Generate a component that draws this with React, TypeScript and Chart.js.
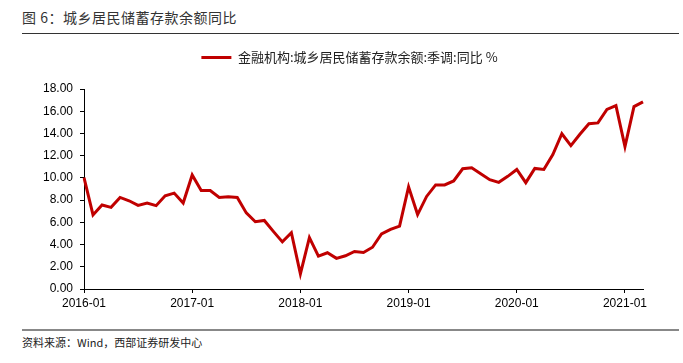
import React, { useEffect, useRef } from "react";
import { Chart, registerables } from "chart.js";

Chart.register(...registerables);

const startYear = 2016;
const monthCount = 63;
const categories: string[] = [];
for (let i = 0; i < monthCount; i++) {
  const y = startYear + Math.floor(i / 12);
  const m = (i % 12) + 1;
  categories.push(`${y}-${m < 10 ? "0" + m : m}`);
}

const yoyValues = [
  10.02, 6.67, 7.56, 7.35, 8.24, 7.94, 7.53, 7.74, 7.5, 8.39, 8.63, 7.74,
  10.26, 8.86, 8.86, 8.24, 8.3, 8.24, 6.85, 6.05, 6.17, 5.19, 4.24, 5.07,
  1.36, 4.63, 2.96, 3.26, 2.76, 2.99, 3.38, 3.29, 3.76, 4.95, 5.36, 5.66,
  9.19, 6.7, 8.33, 9.37, 9.37, 9.72, 10.82, 10.91, 10.38, 9.84, 9.6, 10.14,
  10.76, 9.57, 10.85, 10.76, 12.1, 13.97, 12.9, 13.93, 14.88, 14.95, 16.16, 16.51,
  12.81, 16.42, 16.84,
];

const seriesName = "金融机构:城乡居民储蓄存款余额:季调:同比 %";
const titleText = "图 6：城乡居民储蓄存款余额同比";
const sourceText = "资料来源：Wind，西部证券研发中心";

const latin = '"Liberation Sans", Arial, "Noto Sans CJK SC", sans-serif';
const cjk = '"Noto Sans CJK SC", "Liberation Sans", sans-serif';

const legendGapPlugin = {
  id: "legendGap",
  beforeLayout(chart: any) {
    const lg = chart.legend;
    if (lg && !lg.__gapPatched) {
      const orig = lg.fit.bind(lg);
      lg.fit = function () {
        orig();
        this.height += 15;
      };
      lg.__gapPatched = true;
    }
  },
  afterLayout(chart: any) {
    const lg = chart.legend;
    if (lg) {
      lg.left += 28;
      lg.right += 28;
    }
  },
};

export default function App() {
  const ref = useRef<HTMLCanvasElement | null>(null);

  useEffect(() => {
    if (!ref.current) return;
    const chart = new Chart(ref.current, {
      type: "line",
      data: {
        labels: categories,
        datasets: [
          {
            label: seriesName,
            data: yoyValues,
            borderColor: "#C00000",
            backgroundColor: "#C00000",
            borderWidth: 3,
            pointRadius: 0,
            tension: 0,
            pointStyle: "line",
          },
        ],
      },
      plugins: [legendGapPlugin],
      options: {
        animation: false,
        responsive: false,
        maintainAspectRatio: false,
        layout: { padding: { left: 0, right: 40, top: 0, bottom: 0 } },
        plugins: {
          tooltip: { enabled: false },
          legend: {
            display: true,
            position: "top",
            labels: {
              usePointStyle: true,
              pointStyleWidth: 30,
              boxHeight: 13,
              color: "#222",
              font: { family: cjk, size: 13 },
              padding: 10,
            },
          },
        },
        scales: {
          x: {
            type: "category",
            offset: false,
            afterFit: (s: any) => {
              s.height = 24;
            },
            grid: {
              display: true,
              drawOnChartArea: false,
              drawTicks: true,
              tickLength: 4,
              color: "#000",
            },
            border: { display: true, color: "#000", width: 1 },
            ticks: {
              autoSkip: false,
              maxRotation: 0,
              minRotation: 0,
              padding: 3,
              color: "#000",
              font: { family: latin, size: 12 },
              callback: function (this: any, _v: any, i: number) {
                const lab = categories[i];
                return lab.endsWith("-01") ? lab : null;
              },
            },
          },
          y: {
            min: 0,
            max: 18,
            afterFit: (s: any) => {
              s.width = 84;
            },
            grid: {
              display: true,
              drawOnChartArea: false,
              drawTicks: true,
              tickLength: 4,
              color: "#000",
            },
            border: { display: true, color: "#000", width: 1 },
            ticks: {
              stepSize: 2,
              padding: 7,
              color: "#000",
              font: { family: latin, size: 12 },
              callback: (v: any) => Number(v).toFixed(2),
            },
          },
        },
      },
    });
    return () => chart.destroy();
  }, []);

  return (
    <div
      style={{
        position: "absolute",
        left: 0,
        top: 0,
        width: 683,
        height: 363,
        background: "#fff",
        overflow: "hidden",
      }}
    >
      <div
        style={{
          position: "absolute",
          left: 22,
          top: 8,
          fontFamily: cjk,
          fontSize: 14,
          color: "#333",
          lineHeight: "18px",
          letterSpacing: 0.5,
          whiteSpace: "nowrap",
        }}
      >
        {titleText}
      </div>
      <div
        style={{
          position: "absolute",
          left: 22,
          top: 33,
          width: 657,
          height: 0,
          borderTop: "1.5px solid #333",
        }}
      />
      <canvas
        ref={ref}
        width={683}
        height={272}
        style={{ position: "absolute", left: 0, top: 41, width: 683, height: 272 }}
      />
      <div
        style={{
          position: "absolute",
          left: 22,
          top: 329,
          width: 657,
          height: 0,
          borderTop: "2px solid #888",
        }}
      />
      <div
        style={{
          position: "absolute",
          left: 22,
          top: 335,
          fontFamily: cjk,
          fontSize: 11,
          color: "#222",
          lineHeight: "15px",
          whiteSpace: "nowrap",
        }}
      >
        {sourceText}
      </div>
    </div>
  );
}
